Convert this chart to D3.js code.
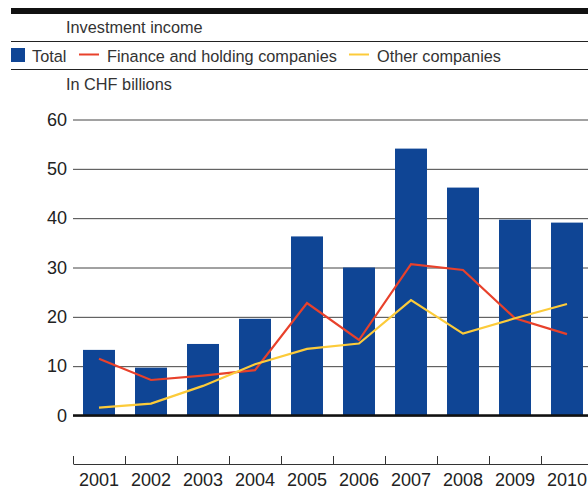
<!DOCTYPE html>
<meta charset="utf-8">
<style>
    body {
        margin: 0;
        background: #fff;
        font-family: "Liberation Sans", Arial, sans-serif;
    }

    .hdr {
        fill: #333;
        font-size: 16.3px;
    }

    .axis text {
        fill: #222;
        font-size: 18px;
    }
</style>

<body>
    <script src="https://cdn.jsdelivr.net/npm/d3@7"></script>

    <script>

        var years = ["2001", "2002", "2003", "2004", "2005", "2006", "2007", "2008", "2009", "2010"];
        var total = [13.3, 9.7, 14.5, 19.6, 36.3, 30.0, 54.1, 46.2, 39.7, 39.1];
        var finance = [11.5, 7.2, 8.1, 9.2, 22.8, 15.3, 30.7, 29.5, 19.7, 16.5];
        var other = [1.6, 2.4, 6.0, 10.4, 13.5, 14.6, 23.4, 16.6, 19.7, 22.6];
        var yTicks = [0, 10, 20, 30, 40, 50, 60];

        var width = 588,
            height = 488;

        var blue = "#0f4595",
            red = "#e8412b",
            yellow = "#fccb3a";

        var x = d3.scaleBand()
            .domain(years)
            .range([73, 593])
            .paddingInner(0.385)
            .paddingOuter(0.1925);

        var y = d3.scaleLinear()
            .domain([0, 60])
            .range([415.5, 119.5]);

        var svg = d3.select("body").append("svg")
            .attr("width", width)
            .attr("height", height);

        // header rules
        svg.append("rect").attr("x", 11).attr("y", 8).attr("width", width - 11).attr("height", 6).attr("fill", "#111");
        svg.append("line").attr("x1", 11).attr("x2", width).attr("y1", 41.5).attr("y2", 41.5).attr("stroke", "#222");
        svg.append("line").attr("x1", 11).attr("x2", width).attr("y1", 69.5).attr("y2", 69.5).attr("stroke", "#222");

        svg.append("text").attr("class", "hdr").attr("x", 66).attr("y", 33).text("Investment income");
        svg.append("text").attr("class", "hdr").attr("x", 66).attr("y", 90).text("In CHF billions");

        // legend
        var lg = svg.append("g").attr("transform", "translate(0,62)");
        lg.append("rect").attr("x", 11).attr("y", -14).attr("width", 14).attr("height", 14).attr("fill", blue);
        lg.append("text").attr("class", "hdr").attr("x", 32).attr("y", 0).text("Total");
        lg.append("line").attr("x1", 79).attr("x2", 99).attr("y1", -7.5).attr("y2", -7.5).attr("stroke", red).attr("stroke-width", 2);
        lg.append("text").attr("class", "hdr").attr("x", 107).attr("y", 0).text("Finance and holding companies");
        lg.append("line").attr("x1", 349).attr("x2", 369).attr("y1", -7.5).attr("y2", -7.5).attr("stroke", yellow).attr("stroke-width", 2);
        lg.append("text").attr("class", "hdr").attr("x", 377).attr("y", 0).text("Other companies");

        // y grid + labels
        var yAxis = svg.append("g")
            .attr("class", "axis")
            .attr("transform", "translate(73,0)")
            .call(d3.axisLeft(y).tickValues(yTicks).tickSize(-(width - 73)).tickPadding(6));
        yAxis.select(".domain").remove();
        yAxis.selectAll(".tick line").attr("stroke", "#444").attr("stroke-width", 1);
        yAxis.selectAll(".tick text").attr("font-family", null).attr("font-size", null);

        // bars
        svg.append("g").selectAll("rect")
            .data(total)
            .join("rect")
            .attr("x", function (d, i) { return x(years[i]); })
            .attr("width", x.bandwidth())
            .attr("y", function (d) { return y(d); })
            .attr("height", function (d) { return y(0) - y(d); })
            .attr("fill", blue);

        // zero line
        svg.append("line").attr("x1", 73).attr("x2", width).attr("y1", y(0)).attr("y2", y(0))
            .attr("stroke", "#111").attr("stroke-width", 2.5);

        // lines
        var line = d3.line()
            .x(function (d, i) { return x(years[i]) + x.bandwidth() / 2; })
            .y(function (d) { return y(d); });

        svg.append("path").datum(finance).attr("d", line)
            .attr("fill", "none").attr("stroke", red).attr("stroke-width", 2.2);
        svg.append("path").datum(other).attr("d", line)
            .attr("fill", "none").attr("stroke", yellow).attr("stroke-width", 2.2);

        // x axis
        var xTick = d3.scaleBand().domain(years).range([73, 593]);
        var xAxis = svg.append("g")
            .attr("class", "axis")
            .attr("transform", "translate(0,464)")
            .call(d3.axisBottom(xTick).tickSize(0).tickPadding(8));
        xAxis.select(".domain").attr("stroke", "#333");
        xAxis.selectAll(".tick text").attr("font-family", null).attr("font-size", null).attr("dy", "0.75em");
        xAxis.selectAll(".sep")
            .data(years)
            .join("line")
            .attr("class", "sep")
            .attr("x1", function (d) { return Math.round(xTick(d)) + 0.5; })
            .attr("x2", function (d) { return Math.round(xTick(d)) + 0.5; })
            .attr("y1", -8).attr("y2", 0)
            .attr("stroke", "#333");

    </script>

</body>

</html>
